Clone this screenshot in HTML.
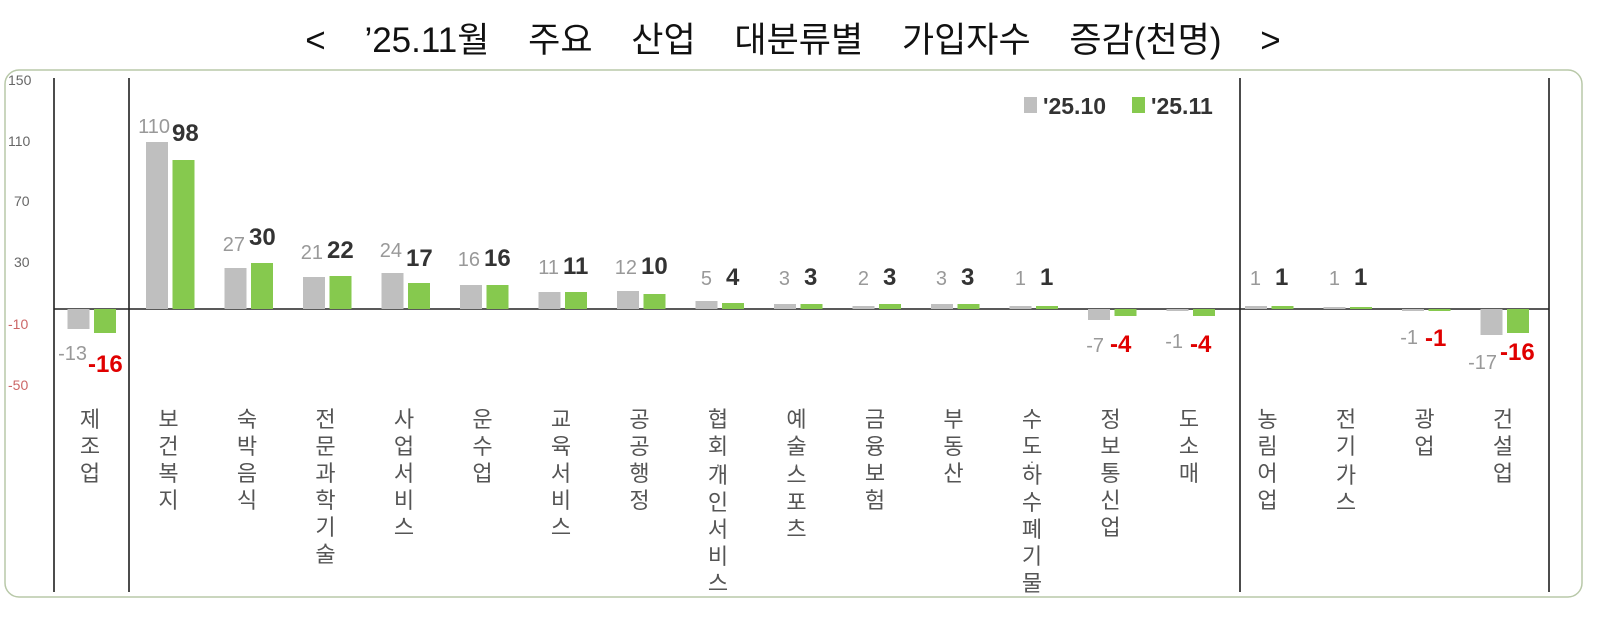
<!DOCTYPE html>
<html><head><meta charset="utf-8"><style>
html,body{margin:0;padding:0;background:#fff;}
svg{display:block;font-family:"Liberation Sans","Noto Sans CJK KR",sans-serif;}
.yt{font-size:14px;fill:#666;}
.g{font-size:20px;fill:#999;}
.b{font-size:24px;font-weight:bold;fill:#333;}
.r{font-size:24px;font-weight:bold;fill:#e00000;}
.cat{font-size:22px;fill:#555;text-anchor:middle;}
</style></head><body>
<svg width="1614" height="634" viewBox="0 0 1614 634">
<text x="793" y="52" text-anchor="middle" font-size="35" word-spacing="29" fill="#111">&lt; ’25.11월 주요 산업 대분류별 가입자수 증감(천명) &gt;</text>
<rect x="5" y="70" width="1577" height="527" rx="14" fill="none" stroke="#b8c8a8" stroke-width="1.5"/>
<line x1="54" y1="78" x2="54" y2="592" stroke="#111" stroke-width="1.5"/>
<line x1="129" y1="78" x2="129" y2="592" stroke="#111" stroke-width="1.5"/>
<line x1="1240" y1="78" x2="1240" y2="592" stroke="#111" stroke-width="1.5"/>
<line x1="1549" y1="78" x2="1549" y2="592" stroke="#111" stroke-width="1.5"/>
<line x1="54" y1="309" x2="1549" y2="309" stroke="#222" stroke-width="1.5"/>
<g class="yt">
<text x="8" y="85">150</text><text x="8" y="146">110</text><text x="14" y="206">70</text><text x="14" y="267">30</text>
<text x="8" y="329" fill="#c66">-10</text><text x="8" y="390" fill="#c66">-50</text>
</g>
<rect x="1024" y="97" width="13" height="16" fill="#bfbfbf"/><text x="1043" y="114" font-size="23" fill="#333" font-weight="bold">'25.10</text>
<rect x="1132" y="97" width="13" height="16" fill="#86c94e"/><text x="1151" y="114" font-size="23" fill="#333" font-weight="bold">'25.11</text>
<g>
<rect x="67.5" y="309" width="22" height="20" fill="#bfbfbf"/><rect x="94" y="309" width="22" height="24" fill="#86c94e"/>
<rect x="146" y="142" width="22" height="167" fill="#bfbfbf"/><rect x="172.5" y="160" width="22" height="149" fill="#86c94e"/>
<rect x="224.5" y="268" width="22" height="41" fill="#bfbfbf"/><rect x="251" y="263" width="22" height="46" fill="#86c94e"/>
<rect x="303" y="277" width="22" height="32" fill="#bfbfbf"/><rect x="329.5" y="276" width="22" height="33" fill="#86c94e"/>
<rect x="381.5" y="273" width="22" height="36" fill="#bfbfbf"/><rect x="408" y="283" width="22" height="26" fill="#86c94e"/>
<rect x="460" y="285" width="22" height="24" fill="#bfbfbf"/><rect x="486.5" y="285" width="22" height="24" fill="#86c94e"/>
<rect x="538.5" y="292" width="22" height="17" fill="#bfbfbf"/><rect x="565" y="292" width="22" height="17" fill="#86c94e"/>
<rect x="617" y="291" width="22" height="18" fill="#bfbfbf"/><rect x="643.5" y="294" width="22" height="15" fill="#86c94e"/>
<rect x="695.5" y="301" width="22" height="8" fill="#bfbfbf"/><rect x="722" y="303" width="22" height="6" fill="#86c94e"/>
<rect x="774" y="304" width="22" height="5" fill="#bfbfbf"/><rect x="800.5" y="304" width="22" height="5" fill="#86c94e"/>
<rect x="852.5" y="306" width="22" height="3" fill="#bfbfbf"/><rect x="879" y="304" width="22" height="5" fill="#86c94e"/>
<rect x="931" y="304" width="22" height="5" fill="#bfbfbf"/><rect x="957.5" y="304" width="22" height="5" fill="#86c94e"/>
<rect x="1009.5" y="306" width="22" height="3" fill="#bfbfbf"/><rect x="1036" y="306" width="22" height="3" fill="#86c94e"/>
<rect x="1088" y="309" width="22" height="11" fill="#bfbfbf"/><rect x="1114.5" y="309" width="22" height="7" fill="#86c94e"/>
<rect x="1166.5" y="309" width="22" height="2" fill="#bfbfbf"/><rect x="1193" y="309" width="22" height="7" fill="#86c94e"/>
<rect x="1245" y="306" width="22" height="3" fill="#bfbfbf"/><rect x="1271.5" y="306" width="22" height="3" fill="#86c94e"/>
<rect x="1323.5" y="307" width="22" height="2" fill="#bfbfbf"/><rect x="1350" y="307" width="22" height="2" fill="#86c94e"/>
<rect x="1402" y="309" width="22" height="2" fill="#bfbfbf"/><rect x="1428.5" y="309" width="22" height="2" fill="#86c94e"/>
<rect x="1480.5" y="309" width="22" height="26" fill="#bfbfbf"/><rect x="1507" y="309" width="22" height="24" fill="#86c94e"/>
</g>
<g>
<text class="g" x="87" y="360" text-anchor="end">-13</text><text class="r" x="88" y="372">-16</text>
<text class="g" x="170" y="133" text-anchor="end">110</text><text class="b" x="172" y="141">98</text>
<text class="g" x="245" y="251" text-anchor="end">27</text><text class="b" x="249" y="245">30</text>
<text class="g" x="323" y="259" text-anchor="end">21</text><text class="b" x="327" y="258">22</text>
<text class="g" x="402" y="257" text-anchor="end">24</text><text class="b" x="406" y="266">17</text>
<text class="g" x="480" y="266" text-anchor="end">16</text><text class="b" x="484" y="266">16</text>
<text class="g" x="559" y="274" text-anchor="end">11</text><text class="b" x="563" y="274">11</text>
<text class="g" x="637" y="274" text-anchor="end">12</text><text class="b" x="641" y="274">10</text>
<text class="g" x="712" y="285" text-anchor="end">5</text><text class="b" x="726" y="285">4</text>
<text class="g" x="790" y="285" text-anchor="end">3</text><text class="b" x="804" y="285">3</text>
<text class="g" x="869" y="285" text-anchor="end">2</text><text class="b" x="883" y="285">3</text>
<text class="g" x="947" y="285" text-anchor="end">3</text><text class="b" x="961" y="285">3</text>
<text class="g" x="1026" y="285" text-anchor="end">1</text><text class="b" x="1040" y="285">1</text>
<text class="g" x="1104" y="352" text-anchor="end">-7</text><text class="r" x="1110" y="352">-4</text>
<text class="g" x="1183" y="348" text-anchor="end">-1</text><text class="r" x="1190" y="352">-4</text>
<text class="g" x="1261" y="285" text-anchor="end">1</text><text class="b" x="1275" y="285">1</text>
<text class="g" x="1340" y="285" text-anchor="end">1</text><text class="b" x="1354" y="285">1</text>
<text class="g" x="1418" y="344" text-anchor="end">-1</text><text class="r" x="1425" y="346">-1</text>
<text class="g" x="1497" y="369" text-anchor="end">-17</text><text class="r" x="1500" y="360">-16</text>
</g>
<g class="cat">
<text x="90" y="427">제</text><text x="90" y="454">조</text><text x="90" y="481">업</text>
<text x="168.5" y="427">보</text><text x="168.5" y="454">건</text><text x="168.5" y="481">복</text><text x="168.5" y="508">지</text>
<text x="247" y="427">숙</text><text x="247" y="454">박</text><text x="247" y="481">음</text><text x="247" y="508">식</text>
<text x="325.5" y="427">전</text><text x="325.5" y="454">문</text><text x="325.5" y="481">과</text><text x="325.5" y="508">학</text><text x="325.5" y="535">기</text><text x="325.5" y="562">술</text>
<text x="404" y="427">사</text><text x="404" y="454">업</text><text x="404" y="481">서</text><text x="404" y="508">비</text><text x="404" y="535">스</text>
<text x="482.5" y="427">운</text><text x="482.5" y="454">수</text><text x="482.5" y="481">업</text>
<text x="561" y="427">교</text><text x="561" y="454">육</text><text x="561" y="481">서</text><text x="561" y="508">비</text><text x="561" y="535">스</text>
<text x="639.5" y="427">공</text><text x="639.5" y="454">공</text><text x="639.5" y="481">행</text><text x="639.5" y="508">정</text>
<text x="718" y="427">협</text><text x="718" y="454">회</text><text x="718" y="466" font-size="14">,</text><text x="718" y="483">개</text><text x="718" y="510">인</text><text x="718" y="537">서</text><text x="718" y="564">비</text><text x="718" y="591">스</text>
<text x="796.5" y="427">예</text><text x="796.5" y="454">술</text><text x="796.5" y="466" font-size="14">,</text><text x="796.5" y="483">스</text><text x="796.5" y="510">포</text><text x="796.5" y="537">츠</text>
<text x="875" y="427">금</text><text x="875" y="454">융</text><text x="875" y="481">보</text><text x="875" y="508">험</text>
<text x="953.5" y="427">부</text><text x="953.5" y="454">동</text><text x="953.5" y="481">산</text>
<text x="1032" y="427">수</text><text x="1032" y="454">도</text><text x="1032" y="466" font-size="14">·</text><text x="1032" y="483">하</text><text x="1032" y="510">수</text><text x="1032" y="537">폐</text><text x="1032" y="564">기</text><text x="1032" y="591">물</text>
<text x="1110.5" y="427">정</text><text x="1110.5" y="454">보</text><text x="1110.5" y="481">통</text><text x="1110.5" y="508">신</text><text x="1110.5" y="535">업</text>
<text x="1189" y="427">도</text><text x="1189" y="454">소</text><text x="1189" y="481">매</text>
<text x="1267.5" y="427">농</text><text x="1267.5" y="454">림</text><text x="1267.5" y="481">어</text><text x="1267.5" y="508">업</text>
<text x="1346" y="427">전</text><text x="1346" y="454">기</text><text x="1346" y="466" font-size="14">,</text><text x="1346" y="483">가</text><text x="1346" y="510">스</text>
<text x="1424.5" y="427">광</text><text x="1424.5" y="454">업</text>
<text x="1503" y="427">건</text><text x="1503" y="454">설</text><text x="1503" y="481">업</text>
</g>
</svg>
</body></html>
